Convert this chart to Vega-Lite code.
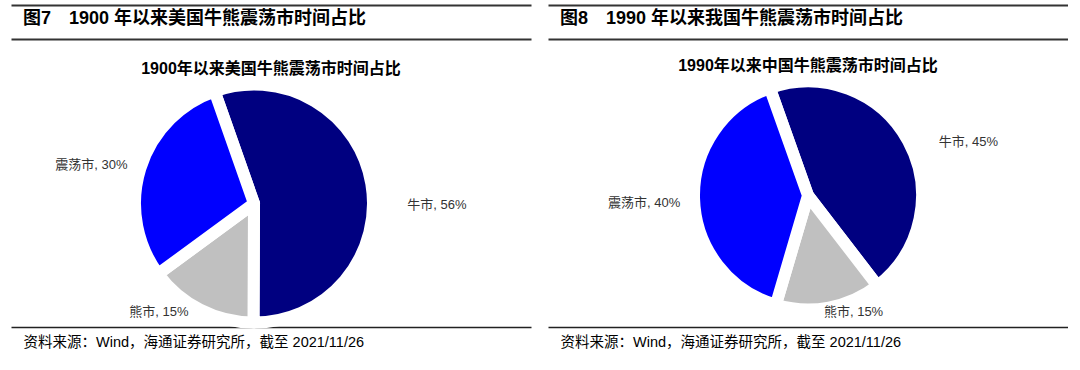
{
  "$schema": "https://vega.github.io/schema/vega-lite/v6.json",
  "background": "white",
  "padding": {"left": 11, "top": 5, "right": 0, "bottom": 0},
  "config": {"view": {"stroke": null}, "font": "Liberation Sans, Noto Sans CJK SC"},
  "datasets": {
    "us": [
      {"market": "牛市", "share": 56, "label": "牛市, 56%"},
      {"market": "熊市", "share": 15, "label": "熊市, 15%"},
      {"market": "震荡市", "share": 30, "label": "震荡市, 30%"}
    ],
    "cn": [
      {"market": "牛市", "share": 45, "label": "牛市, 45%"},
      {"market": "熊市", "share": 15, "label": "熊市, 15%"},
      {"market": "震荡市", "share": 40, "label": "震荡市, 40%"}
    ],
    "h7": [{"title": "图7　1900 年以来美国牛熊震荡市时间占比"}],
    "h8": [{"title": "图8　1990 年以来我国牛熊震荡市时间占比"}]
  },
  "spacing": 17,
  "hconcat": [
    {
      "spacing": 41,
      "bounds": "flush",
      "vconcat": [
        {
          "width": 520, "height": 34,
          "data": {"name": "h7"},
          "mark": {"type": "text", "align": "left", "baseline": "middle", "dx": 12, "dy": -3, "font": "Liberation Sans, Noto Sans CJK SC", "fontSize": 18, "fontWeight": "bold", "color": "#000000"},
          "encoding": {
            "text": {"field": "title"},
            "x": {"datum": 0, "type": "quantitative", "scale": {"domain": [0, 1]},
                  "axis": {"orient": "top", "domain": true, "domainColor": "#333333", "domainWidth": 2, "ticks": false, "labels": false, "grid": false, "title": null}},
            "y": {"datum": 0.5, "type": "quantitative", "scale": {"domain": [0, 1]},
                  "axis": {"orient": "left", "domain": false, "ticks": false, "labels": false, "grid": true, "gridColor": "#333333", "gridWidth": 2, "values": [0], "title": null}}
          }
        },
        {
          "width": 520, "height": 247,
          "data": {"name": "us"},
          "title": {"text": "1900年以来美国牛熊震荡市时间占比", "anchor": "middle", "font": "Liberation Sans, Noto Sans CJK SC", "fontSize": 16, "fontWeight": "bold", "color": "#000000", "offset": 2},
          "layer": [
            {
              "mark": {"type": "arc", "outerRadius": 119, "stroke": "white", "strokeWidth": 12, "strokeJoin": "round", "xOffset": -17, "yOffset": 0},
              "encoding": {
                "theta": {"field": "share", "type": "quantitative", "stack": true, "scale": {"range": [-2.2043, 4.0789]}},
                "order": {"field": "market", "sort": "descending"},
                "color": {"field": "market", "type": "nominal", "scale": {"domain": ["牛市", "熊市", "震荡市"], "range": ["#000080", "#C0C0C0", "#0000FF"]}, "legend": null}
              }
            },
            {
              "mark": {"type": "text", "radius": 183, "thetaOffset": 0.173, "xOffset": -17, "yOffset": 0, "fontSize": 13, "color": "#333333", "align": "center", "baseline": "middle"},
              "encoding": {
                "theta": {"field": "share", "type": "quantitative", "stack": true},
                "order": {"field": "market", "sort": "descending"},
                "text": {"condition": {"test": "datum.market === '牛市'", "field": "label"}, "value": ""}
              }
            },
            {
              "mark": {"type": "text", "radius": 167, "thetaOffset": -0.07, "xOffset": -17, "yOffset": 0, "fontSize": 13, "color": "#333333", "align": "center", "baseline": "middle"},
              "encoding": {
                "theta": {"field": "share", "type": "quantitative", "stack": true},
                "order": {"field": "market", "sort": "descending"},
                "text": {"condition": {"test": "datum.market === '震荡市'", "field": "label"}, "value": ""}
              }
            },
            {
              "mark": {"type": "text", "radius": 144, "thetaOffset": 0.251, "xOffset": -17, "yOffset": 0, "fontSize": 13, "color": "#333333", "align": "center", "baseline": "middle"},
              "encoding": {
                "theta": {"field": "share", "type": "quantitative", "stack": true},
                "order": {"field": "market", "sort": "descending"},
                "text": {"condition": {"test": "datum.market === '熊市'", "field": "label"}, "value": ""}
              }
            },
            {
              "mark": {"type": "text", "text": ""},
              "encoding": {
                "x": {"datum": 0, "type": "quantitative", "scale": {"domain": [0, 1]},
                      "axis": {"orient": "bottom", "domain": true, "domainColor": "#222222", "domainWidth": 1.5, "ticks": false, "labels": false, "grid": false,
                               "title": "资料来源：Wind，海通证券研究所，截至 2021/11/26", "titleFont": "Liberation Sans, Noto Sans CJK SC", "titleFontSize": 14.5, "titleFontWeight": "normal", "titleColor": "#000000", "titleAnchor": "start", "titleAlign": "left", "titleX": 12, "titlePadding": 8}}
              }
            }
          ]
        }
      ]
    },
    {
      "spacing": 41,
      "bounds": "flush",
      "vconcat": [
        {
          "width": 520, "height": 34,
          "data": {"name": "h8"},
          "mark": {"type": "text", "align": "left", "baseline": "middle", "dx": 12, "dy": -3, "font": "Liberation Sans, Noto Sans CJK SC", "fontSize": 18, "fontWeight": "bold", "color": "#000000"},
          "encoding": {
            "text": {"field": "title"},
            "x": {"datum": 0, "type": "quantitative", "scale": {"domain": [0, 1]},
                  "axis": {"orient": "top", "domain": true, "domainColor": "#333333", "domainWidth": 2, "ticks": false, "labels": false, "grid": false, "title": null}},
            "y": {"datum": 0.5, "type": "quantitative", "scale": {"domain": [0, 1]},
                  "axis": {"orient": "left", "domain": false, "ticks": false, "labels": false, "grid": true, "gridColor": "#333333", "gridWidth": 2, "values": [0], "title": null}}
          }
        },
        {
          "width": 520, "height": 247,
          "data": {"name": "cn"},
          "title": {"text": "1990年以来中国牛熊震荡市时间占比", "anchor": "middle", "font": "Liberation Sans, Noto Sans CJK SC", "fontSize": 16, "fontWeight": "bold", "color": "#000000", "offset": 2},
          "layer": [
            {
              "mark": {"type": "arc", "outerRadius": 114, "stroke": "white", "strokeWidth": 12, "strokeJoin": "round", "xOffset": 0, "yOffset": -8},
              "encoding": {
                "theta": {"field": "share", "type": "quantitative", "stack": true, "scale": {"range": [-2.8554, 3.4278]}},
                "order": {"field": "market", "sort": "descending"},
                "color": {"field": "market", "type": "nominal", "scale": {"domain": ["牛市", "熊市", "震荡市"], "range": ["#000080", "#C0C0C0", "#0000FF"]}, "legend": null}
              }
            },
            {
              "mark": {"type": "text", "radius": 169, "thetaOffset": 0.18, "xOffset": 0, "yOffset": -8, "fontSize": 13, "color": "#333333", "align": "center", "baseline": "middle"},
              "encoding": {
                "theta": {"field": "share", "type": "quantitative", "stack": true},
                "order": {"field": "market", "sort": "descending"},
                "text": {"condition": {"test": "datum.market === '牛市'", "field": "label"}, "value": ""}
              }
            },
            {
              "mark": {"type": "text", "radius": 164, "thetaOffset": -0.016, "xOffset": 0, "yOffset": -8, "fontSize": 13, "color": "#333333", "align": "center", "baseline": "middle"},
              "encoding": {
                "theta": {"field": "share", "type": "quantitative", "stack": true},
                "order": {"field": "market", "sort": "descending"},
                "text": {"condition": {"test": "datum.market === '震荡市'", "field": "label"}, "value": ""}
              }
            },
            {
              "mark": {"type": "text", "radius": 125, "thetaOffset": -0.188, "xOffset": 0, "yOffset": -8, "fontSize": 13, "color": "#333333", "align": "center", "baseline": "middle"},
              "encoding": {
                "theta": {"field": "share", "type": "quantitative", "stack": true},
                "order": {"field": "market", "sort": "descending"},
                "text": {"condition": {"test": "datum.market === '熊市'", "field": "label"}, "value": ""}
              }
            },
            {
              "mark": {"type": "text", "text": ""},
              "encoding": {
                "x": {"datum": 0, "type": "quantitative", "scale": {"domain": [0, 1]},
                      "axis": {"orient": "bottom", "domain": true, "domainColor": "#222222", "domainWidth": 1.5, "ticks": false, "labels": false, "grid": false,
                               "title": "资料来源：Wind，海通证券研究所，截至 2021/11/26", "titleFont": "Liberation Sans, Noto Sans CJK SC", "titleFontSize": 14.5, "titleFontWeight": "normal", "titleColor": "#000000", "titleAnchor": "start", "titleAlign": "left", "titleX": 12, "titlePadding": 8}}
              }
            }
          ]
        }
      ]
    }
  ]
}
